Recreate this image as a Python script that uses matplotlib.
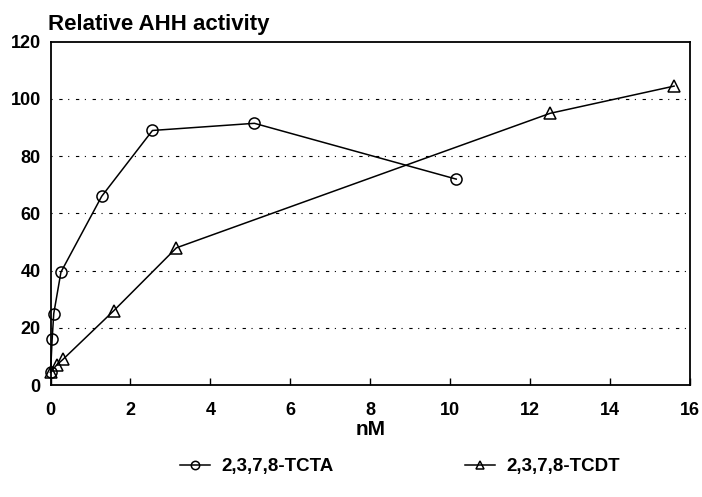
import matplotlib
matplotlib.use('Agg')
import matplotlib.pyplot as plt

plt.rcParams['font.family'] = ['Liberation Sans', 'DejaVu Sans']

# data
tcta_x = [0.0, 0.04, 0.08, 0.26, 1.28, 2.55, 5.1, 10.15]
tcta_y = [4.5, 16, 25, 39.5, 66, 89, 91.5, 72]
tcdt_x = [0.0, 0.15, 0.31, 1.58, 3.15, 12.5, 15.6]
tcdt_y = [4.5, 7, 9, 26, 48, 95, 104.5]

xticks = [0, 2, 4, 6, 8, 10, 12, 14, 16]
yticks = [0, 20, 40, 60, 80, 100, 120]

fig = plt.figure(figsize=(7.02, 4.97), dpi=100)
ax = fig.add_axes([0.072, 0.225, 0.911, 0.691])

ax.plot(tcta_x, tcta_y, color='black', lw=1.1, marker='o', ms=8,
        mfc='none', mec='black', mew=1.1, label='2,3,7,8-TCTA', clip_on=False)
ax.plot(tcdt_x, tcdt_y, color='black', lw=1.1, marker='^', ms=8,
        mfc='none', mec='black', mew=1.1, label='2,3,7,8-TCDT', clip_on=False)

for y in yticks[1:-1]:
    ax.axhline(y, color='black', lw=0.8, ls=(0, (1, 6, 3, 5)), zorder=0)

ax.set_xlim(0, 16)
ax.set_ylim(0, 120)
ax.set_xticks(xticks)
ax.set_yticks(yticks)
ax.tick_params(axis='x', direction='in', length=5, width=1, pad=12, labelsize=13)
ax.tick_params(axis='y', length=0, pad=7, labelsize=13)
for lab in ax.get_xticklabels() + ax.get_yticklabels():
    lab.set_fontweight('bold')
for s in ax.spines.values():
    s.set_linewidth(1.3)

ax.set_xlabel('nM', fontsize=15, fontweight='bold', labelpad=1)
fig.text(0.068, 0.94, 'Relative AHH activity', fontsize=16, fontweight='bold',
         ha='left', va='baseline')

fig.legend(loc='lower center', bbox_to_anchor=(0.57, 0.01), ncol=2, frameon=False,
           handlelength=1.6, handletextpad=0.6, columnspacing=7,
           prop={'weight': 'bold', 'size': 13.5}, markerscale=0.75)

fig.savefig('out.png', dpi=100)
